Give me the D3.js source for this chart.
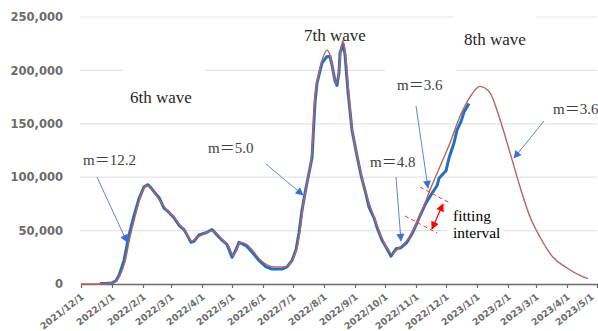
<!DOCTYPE html>
<html>
<head>
<meta charset="utf-8">
<script src="https://cdn.jsdelivr.net/npm/d3@7"></script>
<style>
  body { margin: 0; background: #fff; }
  svg { display: block; }
</style>
</head>
<body>
<div class="graph"></div>
<script>
// observed daily cases (blue)
var actualDates = ["2021/12/20","2021/12/27","2022/1/1","2022/1/5","2022/1/8","2022/1/13","2022/1/18","2022/1/23",
  "2022/1/28","2022/2/2","2022/2/6","2022/2/9","2022/2/14","2022/2/17","2022/2/22","2022/2/27","2022/3/4","2022/3/9",
  "2022/3/14","2022/3/17","2022/3/21","2022/3/24","2022/3/29","2022/4/5","2022/4/11","2022/4/16","2022/4/21","2022/4/26",
  "2022/5/1","2022/5/5","2022/5/8","2022/5/15","2022/5/21","2022/5/28","2022/6/4","2022/6/10","2022/6/20","2022/6/25",
  "2022/6/30","2022/7/4","2022/7/7","2022/7/10","2022/7/14","2022/7/20","2022/7/23","2022/7/25","2022/7/30","2022/8/4",
  "2022/8/7","2022/8/9","2022/8/12","2022/8/14","2022/8/16","2022/8/17","2022/8/20","2022/8/22","2022/8/25","2022/8/29",
  "2022/9/3","2022/9/7","2022/9/12","2022/9/15","2022/9/20","2022/9/23","2022/9/28","2022/10/3","2022/10/7","2022/10/12",
  "2022/10/17","2022/10/23","2022/10/28","2022/11/1","2022/11/6","2022/11/11","2022/11/17","2022/11/22","2022/11/24",
  "2022/11/27","2022/12/1","2022/12/4","2022/12/9","2022/12/12","2022/12/16","2022/12/19","2022/12/24"];
var actualValues = [500,600,1000,3000,8000,22000,46000,64000,
  80000,91000,93000,90000,84000,81000,71000,67000,62000,55000,
  51000,46000,39000,40000,46000,48000,51000,46000,41000,37000,
  25000,32000,39000,36000,30000,22000,16000,14000,14000,16000,
  22000,32000,48000,69000,90000,118000,170000,188000,207000,213000,
  213000,205000,190000,186000,198000,216000,225000,215000,180000,144000,
  120000,102000,84000,72000,62000,53000,41000,33000,26000,33000,
  34000,39000,47000,55000,66000,76000,85000,92000,99000,
  102000,106000,118000,132000,144000,152000,161000,169000];

// fitted curve (red)
var fitDates = ["2021/12/1","2021/12/25","2022/1/1","2022/1/5","2022/1/9","2022/1/14","2022/1/19","2022/1/24",
  "2022/1/29","2022/2/3","2022/2/6","2022/2/10","2022/2/15","2022/2/20","2022/2/26","2022/3/4","2022/3/10","2022/3/15",
  "2022/3/19","2022/3/22","2022/3/26","2022/4/1","2022/4/11","2022/4/17","2022/4/23","2022/4/28","2022/5/2","2022/5/6",
  "2022/5/9","2022/5/16","2022/5/22","2022/5/29","2022/6/5","2022/6/12","2022/6/22","2022/6/27","2022/7/1","2022/7/5",
  "2022/7/8","2022/7/11","2022/7/15","2022/7/20","2022/7/23","2022/7/26","2022/7/31","2022/8/4","2022/8/7","2022/8/10",
  "2022/8/13","2022/8/15","2022/8/18","2022/8/20","2022/8/23","2022/8/26","2022/8/30","2022/9/4","2022/9/8","2022/9/13",
  "2022/9/18","2022/9/23","2022/9/28","2022/10/3","2022/10/8","2022/10/13","2022/10/18","2022/10/24","2022/10/30",
  "2022/11/5","2022/11/15","2022/11/25","2022/12/5","2022/12/15","2022/12/25","2023/1/4","2023/1/14","2023/1/24",
  "2023/2/3","2023/2/13","2023/2/23","2023/3/5","2023/3/18","2023/4/1","2023/4/14","2023/4/22"];
var fitValues = [0,300,800,2500,8000,21000,44000,63000,
  80000,91000,92000,88000,82000,75000,68000,63000,55000,50000,
  43000,40000,43000,46000,50000,46000,40000,35000,27000,33000,
  39000,37000,31000,23000,18000,16000,16000,18000,24000,34000,
  50000,72000,95000,125000,176000,193000,212000,219000,214000,200000,
  188000,192000,220000,228000,210000,175000,140000,117000,99000,82000,
  68000,55000,43000,34000,28000,32000,36000,42000,52000,
  64000,88000,110000,132000,157000,175000,185000,179000,154000,
  123000,91000,63000,44000,25000,15000,8000,5000];

var yTicks = [0, 50000, 100000, 150000, 200000, 250000];

var width = 598;
var height = 331;
var parseTime = d3.timeParse("%Y/%m/%d");

var svg = d3.select(".graph").append("svg")
  .attr("width", width)
  .attr("height", height);

var x = d3.scaleTime()
  .domain([parseTime("2021/12/1"), parseTime("2023/5/1")])
  .range([81, 597]);

var y = d3.scaleLinear()
  .domain([0, 250000])
  .range([284, 17]);

// gridlines
svg.append("g")
  .selectAll("line")
  .data(yTicks.slice(1))
  .enter().append("line")
  .attr("x1", 80).attr("x2", 597)
  .attr("y1", d => y(d)).attr("y2", d => y(d))
  .attr("stroke", "#e3e3e3")
  .attr("stroke-width", 1.2);

// y labels
var yAxisGroup = svg.append("g")
  .attr("transform", "translate(63,0)");
d3.axisLeft(y).tickValues(yTicks).tickSize(0).tickFormat(d3.format(","))(yAxisGroup);
yAxisGroup.select(".domain").remove();
yAxisGroup.selectAll("text")
  .attr("x", 0)
  .style("font-family", "DejaVu Sans")
  .style("font-size", "11.5px")
  .style("font-weight", "bold")
  .attr("fill", "#6b6b6b");

// x axis
var xAxisGroup = svg.append("g")
  .attr("transform", "translate(0,284)");
d3.axisBottom(x)
  .ticks(d3.timeMonth.every(1))
  .tickSize(4)
  .tickSizeOuter(0)
  .tickFormat(d3.timeFormat("%Y/%-m/%-d"))(xAxisGroup);
xAxisGroup.select(".domain").attr("stroke", "#6b6b6b").attr("stroke-width", 1.5);
xAxisGroup.selectAll(".tick line").attr("stroke", "#6b6b6b").attr("stroke-width", 1.2);
var nTicks = xAxisGroup.selectAll("text").size();
xAxisGroup.selectAll("text")
  .attr("x", 0).attr("y", 0).attr("dy", 0)
  .attr("text-anchor", "end")
  .attr("transform", (d, i) => i === nTicks - 1 ? "translate(-3,14) rotate(-38)" : "translate(3,14) rotate(-38)")
  .style("font-family", "DejaVu Sans")
  .style("font-size", "9.3px")
  .style("font-weight", "bold")
  .attr("fill", "#6b6b6b");

var line = d3.line()
  .x(d => x(d.date))
  .y(d => y(d.value));

var smoothLine = d3.line()
  .curve(d3.curveMonotoneX)
  .x(d => x(d.date))
  .y(d => y(d.value));

var actual = actualDates.map((d, i) => ({date: parseTime(d), value: actualValues[i]}));
var fit = fitDates.map((d, i) => ({date: parseTime(d), value: fitValues[i]}));

svg.append("path")
  .datum(actual)
  .attr("fill", "none")
  .attr("stroke", "#2171c0")
  .attr("stroke-width", 3)
  .attr("stroke-linejoin", "round")
  .attr("d", line);

svg.append("path")
  .datum(fit)
  .attr("fill", "none")
  .attr("stroke", "#c0605a")
  .attr("stroke-width", 1.4)
  .attr("stroke-linejoin", "round")
  .attr("d", smoothLine);

// white boxes behind labels
var boxes = [[123, 64, 82, 48], [385, 62, 72, 38], [453, 10, 83, 54], [447, 203, 56, 44]];
svg.append("g").selectAll("rect")
  .data(boxes)
  .enter().append("rect")
  .attr("x", d => d[0]).attr("y", d => d[1])
  .attr("width", d => d[2]).attr("height", d => d[3])
  .attr("fill", "#fff");

var defs = svg.append("defs");
function marker(id, color) {
  defs.append("marker")
    .attr("id", id)
    .attr("viewBox", "0 0 10 10")
    .attr("refX", 9).attr("refY", 5)
    .attr("markerWidth", 10).attr("markerHeight", 8)
    .attr("markerUnits", "userSpaceOnUse")
    .attr("orient", "auto-start-reverse")
    .append("path")
    .attr("d", "M0,0 L10,5 L0,10 z")
    .attr("fill", color);
}
marker("blueHead", "#3f6fd0");
marker("redHead", "#ff0000");

// wave labels
var waveText = [["6th wave", 130, 103], ["7th wave", 304, 41], ["8th wave", 464, 45]];
svg.append("g").selectAll("text")
  .data(waveText)
  .enter().append("text")
  .attr("x", d => d[1]).attr("y", d => d[2])
  .text(d => d[0])
  .style("font-family", "Liberation Serif")
  .style("font-size", "17px")
  .attr("fill", "#262626");

// slope labels and arrows
var slopeText = [["m＝12.2", 83, 165], ["m＝5.0", 208, 153], ["m＝4.8", 370, 167], ["m＝3.6", 397, 90], ["m＝3.6", 553, 114]];
svg.append("g").selectAll("text")
  .data(slopeText)
  .enter().append("text")
  .attr("x", d => d[1]).attr("y", d => d[2])
  .text(d => d[0])
  .style("font-family", "Liberation Serif, Noto Sans CJK JP")
  .style("font-size", "15px")
  .attr("fill", "#404040");

var arrows = [[97, 177, 127, 242], [266, 164, 303, 195], [396, 177, 401, 241], [416, 106, 428, 188], [544, 121, 514, 158]];
svg.append("g").selectAll("line")
  .data(arrows)
  .enter().append("line")
  .attr("x1", d => d[0]).attr("y1", d => d[1])
  .attr("x2", d => d[2]).attr("y2", d => d[3])
  .attr("stroke", "#5b86d6")
  .attr("stroke-width", 1)
  .attr("marker-end", "url(#blueHead)");

// fitting interval
var dashes = [[420, 187, 450, 203], [405, 216, 437, 233]];
svg.append("g").selectAll("line")
  .data(dashes)
  .enter().append("line")
  .attr("x1", d => d[0]).attr("y1", d => d[1])
  .attr("x2", d => d[2]).attr("y2", d => d[3])
  .attr("stroke", "#ff3030")
  .attr("stroke-width", 1)
  .attr("stroke-dasharray", "4,3");

svg.append("line")
  .attr("x1", 443).attr("y1", 204)
  .attr("x2", 432).attr("y2", 229)
  .attr("stroke", "#ff0000")
  .attr("stroke-width", 1.2)
  .attr("marker-start", "url(#redHead)")
  .attr("marker-end", "url(#redHead)");

svg.append("text")
  .attr("x", 453).attr("y", 221)
  .text("fitting")
  .style("font-family", "Liberation Serif")
  .style("font-size", "15.5px")
  .attr("fill", "#000");
svg.append("text")
  .attr("x", 453).attr("y", 238)
  .text("interval")
  .style("font-family", "Liberation Serif")
  .style("font-size", "15.5px")
  .attr("fill", "#000");
</script>
</body>
</html>
